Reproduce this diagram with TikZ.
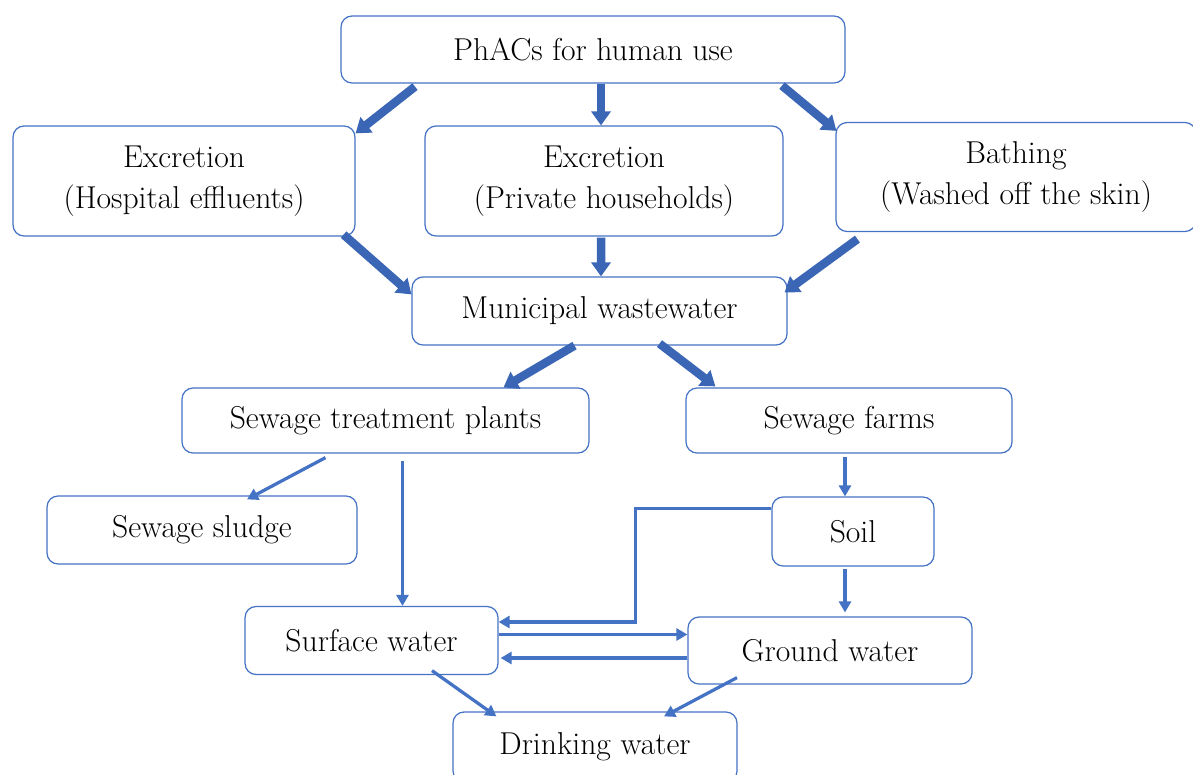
\documentclass[tikz,border=0pt]{standalone}
\usetikzlibrary{arrows.meta,calc}
\definecolor{boxblue}{HTML}{4472C4}
\definecolor{arrowblue}{HTML}{3B66B6}
\begin{document}
\begin{tikzpicture}[x=0.02cm,y=-0.02cm]

    \tikzset{
      box/.style={
        draw=boxblue,
        line width=0.7pt,
        rounded corners=0.22cm,
        align=center,
        inner sep=0pt,
        font=\fontsize{18}{23}\selectfont,
      },
      bigarrow/.style={
        arrowblue,
        line width=0.17cm,
        -{Triangle[width=0.38cm,length=0.28cm]},
      },
      thinarrow/.style={
        boxblue,
        line width=0.065cm,
        -{Triangle[width=0.24cm,length=0.22cm]},
      },
    }
    \useasboundingbox (0,0) rectangle (1193,774);
    \clip (0,0) rectangle (1193,774);
	\node[box, minimum width=10.08cm, minimum height=1.34cm] (phacs) at (593,49.5) {PhACs for human use};
	\node[box, minimum width=6.84cm, minimum height=2.2cm] (hosp) at (184,181) {Excretion\\(Hospital effluents)};
	\node[box, minimum width=7.16cm, minimum height=2.2cm] (priv) at (604,181) {Excretion\\(Private households)};
	\node[box, minimum width=7.2cm, minimum height=2.18cm] (bath) at (1016,177) {Bathing\\(Washed off the skin)};
	\node[box, minimum width=7.5cm, minimum height=1.36cm] (muni) at (599.5,311) {Municipal wastewater};
	\node[box, minimum width=8.14cm, minimum height=1.3cm] (stp) at (385.5,420.5) {Sewage treatment plants};
	\node[box, minimum width=6.52cm, minimum height=1.3cm] (farms) at (849,420.5) {Sewage farms};
	\node[box, minimum width=6.2cm, minimum height=1.36cm] (sludge) at (202,530) {Sewage sludge};
	\node[box, minimum width=3.24cm, minimum height=1.38cm] (soil) at (853,531.5) {Soil};
	\node[box, minimum width=5.06cm, minimum height=1.36cm] (surf) at (371.5,640.5) {Surface water};
	\node[box, minimum width=5.68cm, minimum height=1.34cm] (ground) at (830,650.5) {Ground water};
	\node[box, minimum width=5.68cm, minimum height=1.4cm] (drink) at (595,747) {Drinking water};

	\draw[bigarrow] ($(phacs.south)+(-178,3)$) -- ($(hosp.north east)+(0,8)$);
	\draw[bigarrow] ($(phacs.south)+(8,0)$) -- ($(priv.north)+(-3,0)$);
	\draw[bigarrow] ($(phacs.south)+(189,2)$) -- ($(bath.north west)+(1,9)$);
	\draw[bigarrow] ($(hosp.south east)+(-12,-2)$) -- ($(muni.north west)+(0,18)$);
	\draw[bigarrow] ($(priv.south)+(-3,1)$) -- ($(muni.north)+(1.5,0)$);
	\draw[bigarrow] ($(bath.south west)+(22,7)$) -- ($(muni.north east)+(-3,16)$);
	\draw[bigarrow] ($(muni.south)+(-25,0)$) -- ($(stp.north)+(118,0)$);
	\draw[bigarrow] ($(muni.south)+(60,-2)$) -- ($(farms.north west)+(30,-1)$);

	\draw[thinarrow] ($(stp.south)+(-60,4)$) -- ($(sludge.north)+(45,4)$);
	\draw[thinarrow] ($(stp.south)+(17,7)$) -- ($(surf.north)+(31,0)$);
	\draw[thinarrow] ($(farms.south)+(-4,3)$) -- ($(soil.north)+(-8,0)$);
	\draw[thinarrow] ($(soil.south)+(-8,2)$) -- ($(ground.north)+(15,-4)$);
	\draw[thinarrow] ($(soil.west)+(0,-23)$) -| ($(surf.east)+(137,-18.5)$) -- ($(surf.east)+(0,-18.5)$);
	\draw[thinarrow] ($(surf.east)+(0,-6)$) -- ($(ground.west)+(0,-16)$);
	\draw[thinarrow] ($(ground.west)+(0,7.5)$) -- ($(surf.east)+(2,17.5)$);
	\draw[thinarrow] ($(surf.south)+(60.5,-4.5)$) -- ($(drink.north west)+(44,5)$);
	\draw[thinarrow] ($(ground.south)+(-93,-7)$) -- ($(drink.north)+(69,5)$);

\end{tikzpicture}
\end{document}
